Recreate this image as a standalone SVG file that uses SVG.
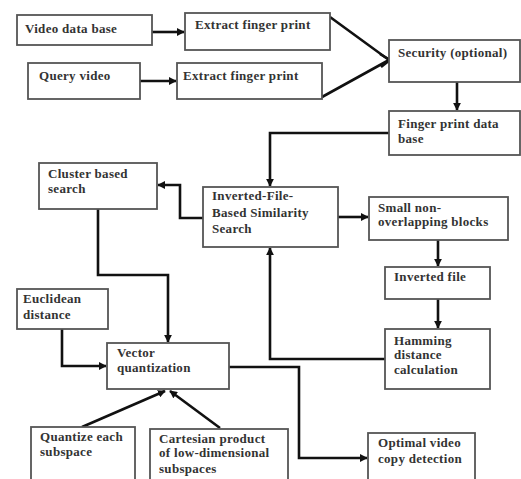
<svg xmlns="http://www.w3.org/2000/svg" width="521" height="479" viewBox="0 0 521 479">
<defs>
<marker id="ah" viewBox="0 0 10 10" refX="9" refY="5" markerWidth="3" markerHeight="3" orient="auto" markerUnits="strokeWidth">
<path d="M0,0 L10,5 L0,10 z" fill="#111"/>
</marker>
<style>
.box{fill:#fff;stroke:#555;stroke-width:1.8}
.t{font-family:"Liberation Serif","Times New Roman",serif;font-weight:bold;font-size:13px;fill:#333;letter-spacing:0.3px}
.c{fill:none;stroke:#111;stroke-width:2.6}
.ca{fill:none;stroke:#111;stroke-width:2.6;marker-end:url(#ah)}
</style>
</defs>
<rect width="521" height="479" fill="#fff"/>
<g id="connectors">
<line class="ca" x1="152" y1="32" x2="184" y2="32"/>
<line class="ca" x1="140" y1="81" x2="176" y2="81"/>
<polyline class="c" points="330,17 389,60 322,97"/>
<path d="M380,54 L390,60 L381,67" fill="none" stroke="#111" stroke-width="2.6"/>
<line class="ca" x1="457" y1="82" x2="457" y2="110"/>
<polyline class="ca" points="389,133 270,133 270,186"/>
<line class="ca" x1="338" y1="217" x2="368" y2="217"/>
<polyline class="ca" points="203,218 180,218 180,185 158,185"/>
<line class="ca" x1="438" y1="240" x2="438" y2="266"/>
<line class="ca" x1="438" y1="299" x2="438" y2="328"/>
<polyline class="ca" points="385,359 270,359 270,248"/>
<polyline class="ca" points="98,209 98,275 168,275 168,342"/>
<polyline class="ca" points="62,329 62,366 106,366"/>
<polyline class="ca" points="229,367 299,367 299,458 367,458"/>
<line class="ca" x1="82" y1="427" x2="165" y2="391"/>
<line class="ca" x1="220" y1="428" x2="170" y2="391"/>
</g>
<g id="video-db"><rect class="box" x="17" y="15" width="135" height="30"/><text class="t" x="25" y="33">Video data base</text></g>
<g id="extract1"><rect class="box" x="185" y="13" width="145" height="37"/><text class="t" x="195" y="29">Extract finger print</text></g>
<g id="query-video"><rect class="box" x="28" y="63" width="112" height="36"/><text class="t" x="39" y="80">Query video</text></g>
<g id="extract2"><rect class="box" x="177" y="63" width="145" height="36"/><text class="t" x="183" y="80">Extract finger print</text></g>
<g id="security"><rect class="box" x="389" y="40" width="131" height="42"/><text class="t" x="398" y="57">Security (optional)</text></g>
<g id="fp-db"><rect class="box" x="389" y="111" width="131" height="44"/><text class="t" x="398" y="128">Finger print data</text><text class="t" x="398" y="143">base</text></g>
<g id="cluster"><rect class="box" x="39" y="163" width="118" height="46"/><text class="t" x="48" y="178">Cluster based</text><text class="t" x="48" y="193">search</text></g>
<g id="inverted-search"><rect class="box" x="203" y="187" width="135" height="60"/><text class="t" x="212" y="200">Inverted-File-</text><text class="t" x="212" y="217">Based  Similarity</text><text class="t" x="212" y="233">Search</text></g>
<g id="small-blocks"><rect class="box" x="369" y="197" width="139" height="43"/><text class="t" x="378" y="212">Small non-</text><text class="t" x="378" y="226">overlapping blocks</text></g>
<g id="inverted-file"><rect class="box" x="385" y="267" width="105" height="32"/><text class="t" x="394" y="281">Inverted file</text></g>
<g id="hamming"><rect class="box" x="385" y="329" width="105" height="60"/><text class="t" x="394" y="345">Hamming</text><text class="t" x="394" y="359">distance</text><text class="t" x="394" y="374">calculation</text></g>
<g id="euclidean"><rect class="box" x="17" y="289" width="91" height="40"/><text class="t" x="23" y="303">Euclidean</text><text class="t" x="23" y="319">distance</text></g>
<g id="vector-quant"><rect class="box" x="107" y="343" width="122" height="46"/><text class="t" x="117" y="357">Vector</text><text class="t" x="117" y="372">quantization</text></g>
<g id="quantize"><rect class="box" x="31" y="427" width="104" height="56"/><text class="t" x="40" y="441">Quantize each</text><text class="t" x="40" y="456">subspace</text></g>
<g id="cartesian"><rect class="box" x="150" y="429" width="138" height="54"/><text class="t" x="159" y="443">Cartesian product</text><text class="t" x="159" y="457">of low-dimensional</text><text class="t" x="159" y="473">subspaces</text></g>
<g id="optimal"><rect class="box" x="368" y="433" width="107" height="50"/><text class="t" x="378" y="447">Optimal video</text><text class="t" x="378" y="463">copy detection</text></g>
</svg>
